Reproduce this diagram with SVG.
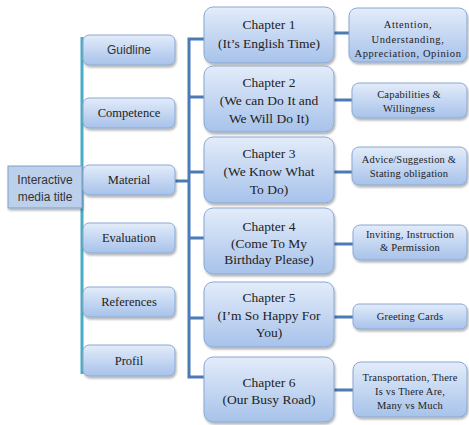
<svg xmlns="http://www.w3.org/2000/svg" width="469" height="425" viewBox="0 0 469 425">
<defs>
<linearGradient id="g" x1="0" y1="0" x2="0" y2="1">
<stop offset="0" stop-color="#e3ecfa"/>
<stop offset="1" stop-color="#a7c2ea"/>
</linearGradient>
<filter id="sh" x="-10%" y="-10%" width="125%" height="130%">
<feDropShadow dx="1" dy="2" stdDeviation="1.2" flood-color="#000" flood-opacity="0.3"/>
</filter>
<style>
.box{fill:url(#g);stroke:#8aa8d2;stroke-width:1;filter:url(#sh)}
.main{fill:#bcd0ec;stroke:#7e9fcb;stroke-width:1;filter:url(#sh)}
.teal{stroke:#4bacc6;stroke-width:3;fill:none}
.blue{stroke:#4a7bb7;stroke-width:3;fill:none}
.sans{font-size:12px;fill:#333;text-anchor:middle}
.ser{font-size:12.5px;fill:#222;text-anchor:middle}
.ch{font-size:13.5px;fill:#222;text-anchor:middle}
.sm{font-size:10.5px;fill:#222;text-anchor:middle;letter-spacing:0.2px}
.sm1{font-size:10.5px;fill:#222;text-anchor:middle;letter-spacing:0.6px}
</style>
</defs>
<g id="connectors">
<line class="teal" x1="82" y1="37" x2="82" y2="374"/>
<path class="blue" d="M175 181 H189 M204 39 H189 V377 H204 M189 97 H204 M189 172 H204 M189 238 H204 M189 318 H204"/>
<path class="blue" d="M334 33 H349 M334 100 H352 M334 172 H352 M334 244 H353 M334 317 H353 M334 390 H353"/>
</g>
<g font-family="Liberation Sans, Arial, sans-serif">
<g id="root"><rect class="main" x="8" y="166" width="74" height="42"/><text class="sans" x="45" y="184">Interactive</text><text class="sans" x="45" y="201">media title</text></g>
<g id="guidline"><rect class="box" x="83" y="35" width="92" height="30" rx="6"/><text class="sans" x="129" y="54">Guidline</text></g>
</g>
<g font-family="Liberation Serif, Times New Roman, DejaVu Serif, serif">
<g id="competence"><rect class="box" x="83" y="98" width="92" height="30" rx="6"/><text class="ser" x="129" y="117">Competence</text></g>
<g id="material"><rect class="box" x="83" y="165" width="92" height="30" rx="6"/><text class="ser" x="129" y="184">Material</text></g>
<g id="evaluation"><rect class="box" x="83" y="223" width="92" height="30" rx="6"/><text class="ser" x="129" y="242">Evaluation</text></g>
<g id="references"><rect class="box" x="83" y="287" width="92" height="30" rx="6"/><text class="ser" x="129" y="306">References</text></g>
<g id="profil"><rect class="box" x="83" y="345" width="92" height="31" rx="6"/><text class="ser" x="129" y="365">Profil</text></g>
<g id="ch1"><rect class="box" x="204" y="7" width="130" height="56" rx="9"/><text class="ch" x="269" y="29">Chapter 1</text><text class="ch" x="269" y="48">(It’s English Time)</text></g>
<g id="ch2"><rect class="box" x="204" y="66" width="130" height="66" rx="9"/><text class="ch" x="269" y="87">Chapter 2</text><text class="ch" x="269" y="105">(We can Do It and</text><text class="ch" x="269" y="123">We Will Do It)</text></g>
<g id="ch3"><rect class="box" x="204" y="137" width="130" height="66" rx="9"/><text class="ch" x="269" y="158">Chapter 3</text><text class="ch" x="269" y="176">(We Know What</text><text class="ch" x="269" y="194">To Do)</text></g>
<g id="ch4"><rect class="box" x="204" y="208" width="130" height="66" rx="9"/><text class="ch" x="269" y="231">Chapter 4</text><text class="ch" x="269" y="248">(Come To My</text><text class="ch" x="269" y="264">Birthday Please)</text></g>
<g id="ch5"><rect class="box" x="204" y="282" width="130" height="65" rx="9"/><text class="ch" x="269" y="302">Chapter 5</text><text class="ch" x="269" y="320">(I’m So Happy For</text><text class="ch" x="269" y="337">You)</text></g>
<g id="ch6"><rect class="box" x="204" y="357" width="130" height="65" rx="9"/><text class="ch" x="269" y="387">Chapter 6</text><text class="ch" x="269" y="404">(Our Busy Road)</text></g>
<g id="r1"><rect class="box" x="349" y="8" width="118" height="54" rx="8"/><text class="sm1" x="408" y="28">Attention,</text><text class="sm1" x="408" y="43">Understanding,</text><text class="sm1" x="408" y="57">Appreciation, Opinion</text></g>
<g id="r2"><rect class="box" x="352" y="83" width="115" height="35" rx="7"/><text class="sm" x="409" y="98">Capabilities &amp;</text><text class="sm" x="409" y="112">Willingness</text></g>
<g id="r3"><rect class="box" x="352" y="147" width="115" height="38" rx="7"/><text class="sm" x="409" y="163">Advice/Suggestion &amp;</text><text class="sm" x="409" y="177">Stating obligation</text></g>
<g id="r4"><rect class="box" x="353" y="225" width="114" height="35" rx="7"/><text class="sm" x="410" y="238">Inviting, Instruction</text><text class="sm" x="410" y="251">&amp; Permission</text></g>
<g id="r5"><rect class="box" x="353" y="304" width="114" height="25" rx="6"/><text class="sm" x="410" y="320">Greeting Cards</text></g>
<g id="r6"><rect class="box" x="353" y="362" width="114" height="55" rx="8"/><text class="sm" x="410" y="381">Transportation, There</text><text class="sm" x="410" y="395">Is vs There Are,</text><text class="sm" x="410" y="409">Many vs Much</text></g>
</g>
</svg>
